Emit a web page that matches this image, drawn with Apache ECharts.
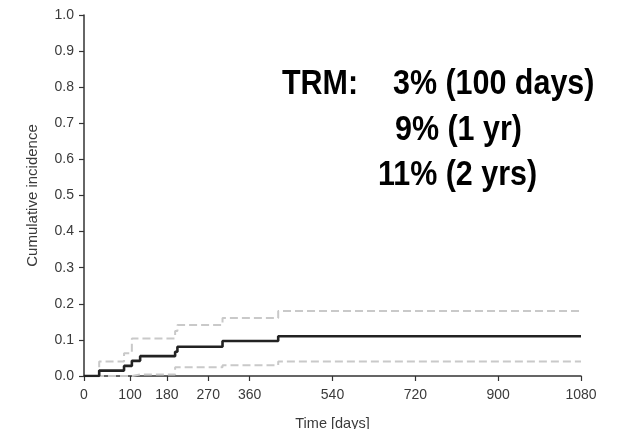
<!DOCTYPE html>
<html>
<head>
<meta charset="utf-8">
<style>
  html, body { margin: 0; padding: 0; background: #fff; }
  #chart { width: 621px; height: 429px; }
</style>
<script src="https://cdn.jsdelivr.net/npm/echarts@6/dist/echarts.min.js"></script>
</head>
<body>
<div id="chart"></div>
<script>
// Cumulative incidence of TRM over time (step function with 95% CI)
const stepDays   = [0, 33, 87, 104, 122, 198, 203, 301, 422, 1080];
const incidence  = [0, 0.015, 0.028, 0.042, 0.055, 0.067, 0.081, 0.097, 0.110, 0.110];
const upperCI    = [0, 0.040, 0.063, 0.104, 0.104, 0.125, 0.141, 0.161, 0.180, 0.180];
const lowerCI    = [0, 0, 0, 0.004, 0.004, 0.024, 0.024, 0.030, 0.040, 0.040];

const xTicks = [0, 100, 180, 270, 360, 540, 720, 900, 1080];

const annotationLines = [
  { text: 'TRM:', x: 282, y: 102 },
  { text: '3% (100 days)', x: 393, y: 102 },
  { text: '9% (1 yr)', x: 395, y: 148 },
  { text: '11% (2 yrs)', x: 378, y: 193 }
];

const pairs = (xs, ys) => xs.map((d, i) => [d, ys[i]]);

const chart = echarts.init(document.getElementById('chart'), null, { renderer: 'canvas' });

const axisText = { color: '#3a3a3a', fontFamily: 'Liberation Sans, Arial, sans-serif', fontSize: 14 };

chart.setOption({
  animation: false,
  backgroundColor: '#ffffff',
  grid: { left: 84, right: 40, top: 15, bottom: 53, containLabel: false, outerBoundsMode: 'none' },
  xAxis: {
    type: 'value',
    min: 0, max: 1080,
    name: 'Time [days]',
    nameLocation: 'middle',
    nameGap: 40,
    nameTextStyle: Object.assign({}, axisText, { fontSize: 14.5 }),
    axisLine: { show: true, lineStyle: { color: '#333', width: 1.5 } },
    axisTick: { show: true, length: 5, customValues: xTicks, lineStyle: { color: '#333', width: 1.2 } },
    axisLabel: Object.assign({ customValues: xTicks, margin: 12, formatter: v => String(v) }, axisText),
    splitLine: { show: false }
  },
  yAxis: {
    type: 'value',
    min: 0, max: 1, interval: 0.1,
    name: 'Cumulative incidence',
    nameLocation: 'middle',
    nameGap: 44,
    nameTextStyle: Object.assign({}, axisText, { fontSize: 15 }),
    axisLine: { show: true, lineStyle: { color: '#333', width: 1.5 } },
    axisTick: { show: true, length: 5, lineStyle: { color: '#333', width: 1.2 } },
    axisLabel: Object.assign({ margin: 10, formatter: v => v.toFixed(1) }, axisText),
    splitLine: { show: false }
  },
  series: [
    {
      name: 'Upper 95% CI',
      type: 'line', step: 'end', symbol: 'none',
      data: pairs(stepDays, upperCI),
      lineStyle: { color: '#c9c9c9', width: 2, type: [8, 4] },
      z: 2
    },
    {
      name: 'Lower 95% CI',
      type: 'line', step: 'end', symbol: 'none',
      data: pairs(stepDays, lowerCI),
      lineStyle: { color: '#c9c9c9', width: 2, type: [8, 4] },
      z: 2
    },
    {
      name: 'TRM',
      type: 'line', step: 'end', symbol: 'none',
      data: pairs(stepDays, incidence),
      lineStyle: { color: '#222222', width: 2.6 },
      z: 3
    }
  ],
  graphic: annotationLines.map(l => ({
    type: 'text',
    x: l.x, y: l.y,
    scaleX: 0.87,
    style: {
      text: l.text,
      fill: '#000',
      font: 'bold 35px "Liberation Sans", Arial, sans-serif',
      textAlign: 'left',
      textVerticalAlign: 'bottom',
      verticalAlign: 'bottom'
    }
  }))
});
</script>
</body>
</html>
